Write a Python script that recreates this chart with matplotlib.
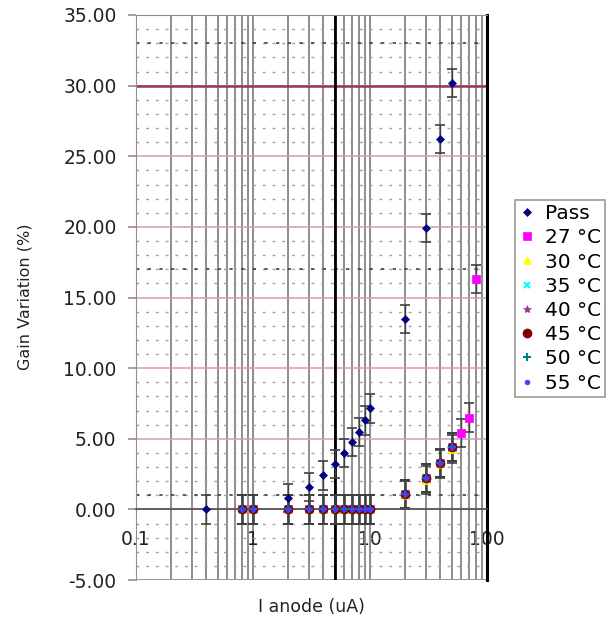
import matplotlib
matplotlib.use('Agg')
import matplotlib.pyplot as plt
from matplotlib.ticker import MultipleLocator, LogLocator, FixedLocator, FuncFormatter

# 数据
pass_x = [0.4, 2, 3, 4, 5, 6, 7, 8, 9, 10, 20, 30, 40, 50]
pass_y = [0.0, 0.8, 1.6, 2.4, 3.2, 4.0, 4.75, 5.5, 6.3, 7.15, 13.5, 19.9, 26.2, 30.2]

temp_x = [0.8, 1, 2, 3, 4, 5, 6, 7, 8, 9, 10, 20, 30, 40, 50]
t27_x = [0.8, 1, 2, 3, 4, 5, 6, 7, 8, 9, 10, 20, 30, 40, 50, 60, 70, 80]
t27_y = [0, 0, 0, 0, 0, 0, 0, 0, 0, 0, 0, 1.1, 2.2, 3.3, 4.4, 5.4, 6.5, 16.3]
t30_y = [0, 0, 0, 0, 0, 0, 0, 0, 0, 0, 0, 1.0, 2.1, 3.2, 4.3]
t35_y = [0, 0, 0, 0, 0, 0, 0, 0, 0, 0, 0, 1.1, 2.2, 3.3, 4.4]
t40_y = [0, 0, 0, 0, 0, 0, 0, 0, 0, 0, 0, 1.1, 2.2, 3.3, 4.4]
t45_y = [0, 0, 0, 0, 0, 0, 0, 0, 0, 0, 0, 1.1, 2.2, 3.3, 4.4]
t50_y = [0, 0, 0, 0, 0, 0, 0, 0, 0, 0, 0, 1.1, 2.2, 3.3, 4.4]
t55_y = [0, 0, 0, 0, 0, 0, 0, 0, 0, 0, 0, 1.1, 2.2, 3.3, 4.4]
err = 1.0

y_ticks = [-5, 0, 5, 10, 15, 20, 25, 30, 35]
x_ticks = [0.1, 1, 10, 100]

series = [
    ('Pass', pass_x, pass_y, '#000080', 'D', 4.5),
    ('27 °C', t27_x, t27_y, '#ff00ff', 's', 6),
    ('30 °C', temp_x, t30_y, '#ffff00', '^', 6),
    ('35 °C', temp_x, t35_y, '#00ffff', 'x', 5),
    ('40 °C', temp_x, t40_y, '#993399', '*', 6),
    ('45 °C', temp_x, t45_y, '#800000', 'o', 6.5),
    ('50 °C', temp_x, t50_y, '#008080', '+', 6),
    ('55 °C', temp_x, t55_y, '#4040ff', 'o', 3.5),
]

plt.rcParams['font.family'] = ['DejaVu Sans']

fig = plt.figure(figsize=(6.15, 6.23), dpi=100)
ax = fig.add_axes([136 / 615, 1 - 580 / 623, 351 / 615, 565 / 623])

ax.set_xscale('log')
ax.set_xlim(0.1, 100)
ax.set_ylim(-5, 35)

# 网格
ax.xaxis.set_major_locator(FixedLocator(x_ticks))
ax.xaxis.set_minor_locator(LogLocator(base=10, subs=range(2, 10)))
ax.xaxis.set_major_formatter(FuncFormatter(lambda v, p: '%g' % v))
ax.grid(which='both', axis='x', color='#858585', lw=1.3, ls='-')

ax.yaxis.set_major_locator(FixedLocator(y_ticks))
ax.yaxis.set_minor_locator(MultipleLocator(1))
ax.yaxis.set_major_formatter(FuncFormatter(lambda v, p: '%.2f' % v))
ax.grid(which='major', axis='y', color='#d898b0', lw=1.1)
ax.grid(which='minor', axis='y', color='#a0a0a0', lw=1, ls=(0, (2, 5)))
ax.set_axisbelow(True)

for yy in [1, 17, 33]:
    ax.axhline(yy, color='#404040', lw=1.2, ls=(0, (2, 5)), zorder=1)
ax.axhline(30, color='#a03060', lw=1.8, zorder=1)
ax.axhline(-5, color='#909090', lw=1.2, zorder=1)
ax.axvline(5, color='black', lw=2, zorder=1.5)

# 坐标轴
ax.spines['bottom'].set_position(('data', 0))
ax.spines['bottom'].set_color('#505050')
ax.spines['bottom'].set_linewidth(1.2)
ax.spines['left'].set_color('#909090')
ax.spines['top'].set_color('#909090')
ax.spines['right'].set_color('black')
ax.spines['right'].set_linewidth(2.2)

ax.tick_params(axis='x', which='both', length=0, pad=15, labelsize=13.5, labelcolor='#222222')
ax.tick_params(axis='y', which='major', length=6, width=1.2, color='#909090',
               pad=8, labelsize=13.5, labelcolor='#222222')
ax.tick_params(axis='y', which='minor', length=0)

# 数据点
for label, xs, ys, color, marker, ms in series:
    ax.errorbar(xs, ys, yerr=err, fmt='none', ecolor='#404040', elinewidth=1,
                capsize=3.5, capthick=1.2, zorder=2)
for label, xs, ys, color, marker, ms in series:
    mew = 1.5 if marker in ('x', '+') else 0.5
    ax.plot(xs, ys, ls='none', marker=marker, color=color, markersize=ms,
            markeredgewidth=mew, label=label, zorder=3)

fig.text(25 / 615, 1 - 297 / 623, 'Gain Variation (%)', rotation=90,
         ha='center', va='center', fontsize=11.5, color='#222222')
fig.text(311 / 615, 1 - 607 / 623, 'I anode (uA)', ha='center', va='center',
         fontsize=12.5, color='#222222')

leg = fig.legend(loc='upper left', bbox_to_anchor=(515 / 615, 1 - 200 / 623),
                 fontsize=14.5, frameon=True, fancybox=False, edgecolor='#808080',
                 handlelength=0.8, handletextpad=0.5, labelspacing=0.26,
                 borderpad=0.2, borderaxespad=0)
leg.get_frame().set_linewidth(1.2)

plt.savefig('out.png', dpi=100)
